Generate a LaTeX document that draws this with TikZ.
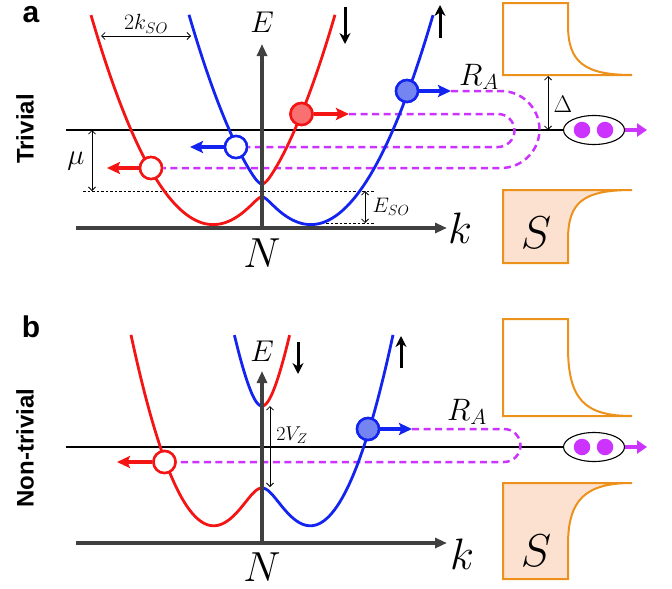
\RequirePackage{fix-cm}
\documentclass[tikz,border=0pt]{standalone}
\usepackage{fontspec}
\newfontfamily\hel{Liberation Sans}
\usetikzlibrary{arrows.meta,shapes.geometric}
\definecolor{redc}{RGB}{245,20,20}
\definecolor{bluec}{RGB}{20,36,240}
\definecolor{redfill}{RGB}{248,112,112}
\definecolor{bluefill}{RGB}{116,132,240}
\definecolor{purp}{RGB}{204,51,255}
\definecolor{orng}{RGB}{236,146,28}
\definecolor{peach}{RGB}{253,225,208}
\definecolor{axisgray}{RGB}{64,64,64}
\begin{document}
\begin{tikzpicture}[x=1pt,y=-1pt,
  band/.style={line width=2.8pt},
  axisline/.style={line width=3.5pt,draw=axisgray,-{Triangle[length=12pt,width=10pt]}},
  thinarr/.style={line width=0.8pt,{Straight Barb[length=3.5pt,width=7pt]}-{Straight Barb[length=3.5pt,width=7pt]}},
  fermi/.style={line width=1.1pt},
  pdash/.style={draw=purp,line width=2.5pt,dash pattern=on 7pt off 4.5pt},
  dotl/.style={line width=0.9pt,dash pattern=on 2.5pt off 2pt},
  spinarr/.style={line width=3pt,-{Stealth[length=11pt,width=11pt]}},
  kick/.style={line width=3.5pt,-{Stealth[length=13pt,width=12pt,inset=2.5pt]}},
  dotc/.style={circle,line width=2.5pt,minimum size=22pt,inner sep=0pt},
  lbl/.style={inner sep=0pt},
  sbox/.style={draw=orng,line width=2pt},
  pair/.style={ellipse,draw,line width=1.1pt,fill=white,minimum width=61pt,minimum height=29pt,inner sep=0pt},
  pdot/.style={circle,fill=purp,minimum size=16.5pt,inner sep=0pt},
  parr/.style={draw=purp,line width=4.5pt,-{Triangle[length=10pt,width=13pt]}},
  panel/.style={lbl,font=\hel\bfseries\fontsize{30}{30}\selectfont},
  side/.style={lbl,rotate=90,font=\hel\bfseries\fontsize{24}{24}\selectfont}
]
\useasboundingbox (0,0) rectangle (672,589);

% ================= panel a =================
\node[panel] (la) at (31,15) {a};
\node[side] (triv) at (25,129) {Trivial};

% superconductor boxes
\draw[sbox] (568,25) .. controls (568,62) and (584,75) .. (632,75) -- (503,75) -- (503,3) -- (568,3) -- cycle;
\draw[sbox,fill=peach] (632,190) .. controls (582,190) and (568,203) .. (568,240) -- (568,263) -- (503,263) -- (503,190) -- cycle;
\node[lbl,font=\fontsize{46}{46}\selectfont] (Sa) at (536,233) {$S$};

% Cooper pair
\node[pair] (ella) at (594,130) {};
\node[pdot] (d1a) at (582,130) {};
\node[pdot] (d2a) at (605,130) {};
\coordinate (pa) at (647,130);
\draw[parr] (ella.east) -- (pa);

% Fermi line
\coordinate (fla) at (66,130);
\draw[fermi] (fla) -- (ella.west);

% Delta
\coordinate (dta) at (548,76);
\coordinate (dba) at (548,130);
\draw[thinarr] (dta) -- (dba);
\node[lbl,font=\fontsize{24}{24}\selectfont] (Dl) at (563,104) {$\Delta$};

% dotted reference lines
\coordinate (m1) at (83,191); \coordinate (m2) at (374,191);
\coordinate (m3) at (308,223); \coordinate (m4) at (374,223);
\draw[dotl] (m1) -- (m2);
\draw[dotl] (m3) -- (m4);

% mu
\coordinate (mut) at (92,130); \coordinate (mub) at (92,191);
\draw[thinarr] (mut) -- (mub);
\node[lbl,font=\fontsize{29}{29}\selectfont] (mu) at (76,161) {$\mu$};

% E_SO
\coordinate (est) at (365,191); \coordinate (esb) at (365,223);
\draw[thinarr] (est) -- (esb);
\node[lbl,font=\fontsize{21}{21}\selectfont] (eso) at (391,207) {$E_{SO}$};

% 2k_SO
\coordinate (kl) at (101,36); \coordinate (kr) at (191,36);
\draw[thinarr] (kl) -- (kr);
\node[lbl,font=\fontsize{22}{22}\selectfont] (kso) at (146,24) {$2k_{SO}$};

% circles positions
\node[dotc,draw=redc,fill=redfill] (cRa) at (301.5,114) {};
\node[dotc,draw=bluec,fill=bluefill] (cBa) at (407,91) {};
\node[dotc,draw=bluec,fill=white] (oBa) at (236,147) {};
\node[dotc,draw=redc,fill=white] (oRa) at (151,168) {};
\coordinate (tRa) at (349,114);
\coordinate (tBa) at (451,91);
\coordinate (tBo) at (190,147);
\coordinate (tRo) at (107,168);

% dashed Andreev loops
\draw[pdash] (tBa) -- (501,91) arc[start angle=-90,end angle=90,radius=38.5] -- (oRa.east);
\draw[pdash] (tRa) -- (498,114) arc[start angle=-90,end angle=90,radius=16.5] -- (oBa.east);
\node[lbl,font=\fontsize{31}{31}\selectfont] (RAa) at (479,77) {$R_A$};

% bands (u = k/10)
\draw[band,redc] plot[domain=-17.1:0,samples=120,variable=\u] ({262+10*\u},{190.5-1.406*\u*\u+10*sqrt(0.4225+1.899*\u*\u)});
\draw[band,bluec] plot[domain=0:17.1,samples=120,variable=\u] ({262+10*\u},{190.5-1.406*\u*\u+10*sqrt(0.4225+1.899*\u*\u)});
\draw[band,bluec] plot[domain=-7.3:0,samples=80,variable=\u] ({262+10*\u},{190.5-1.406*\u*\u-10*sqrt(0.4225+1.899*\u*\u)});
\draw[band,redc] plot[domain=0:7.3,samples=80,variable=\u] ({262+10*\u},{190.5-1.406*\u*\u-10*sqrt(0.4225+1.899*\u*\u)});

% axes
\coordinate (oa) at (262,228); \coordinate (ea) at (262,44);
\coordinate (k0a) at (76,228); \coordinate (k1a) at (447,228);
\draw[axisline] (oa) -- (ea);
\draw[axisline] (k0a) -- (k1a);
\node[lbl,font=\fontsize{30}{30}\selectfont] (Ea) at (262,22) {$E$};
\node[lbl,font=\fontsize{42}{42}\selectfont] (Na) at (262,253) {$N$};
\node[lbl,font=\fontsize{44}{44}\selectfont] (ka) at (460,228) {$k$};

% circles on top
\node[dotc,draw=redc,fill=redfill] at (cRa) {};
\node[dotc,draw=bluec,fill=bluefill] at (cBa) {};
\node[dotc,draw=bluec,fill=white] at (oBa) {};
\node[dotc,draw=redc,fill=white] at (oRa) {};
\draw[kick,redc] (cRa.east) -- (tRa);
\draw[kick,bluec] (cBa.east) -- (tBa);
\draw[kick,bluec] (oBa.west) -- (tBo);
\draw[kick,redc] (oRa.west) -- (tRo);

% spin arrows
\coordinate (sd1) at (345,7); \coordinate (sd2) at (345,44);
\coordinate (su1) at (440,38); \coordinate (su2) at (440,5);
\draw[spinarr] (sd1) -- (sd2);
\draw[spinarr] (su1) -- (su2);

% ================= panel b =================
\node[panel] (lb) at (31,327) {b};
\node[side] (ntriv) at (25,448) {Non-trivial};

\draw[sbox] (568,347) .. controls (568,400) and (585,416) .. (632,416) -- (503,416) -- (503,319) -- (568,319) -- cycle;
\draw[sbox,fill=peach] (632,483) .. controls (585,483) and (568,500) .. (568,545) -- (568,579) -- (503,579) -- (503,483) -- cycle;
\node[lbl,font=\fontsize{46}{46}\selectfont] (Sb) at (536,551) {$S$};

\node[pair] (ellb) at (594,447) {};
\node[pdot] (d1b) at (582,447) {};
\node[pdot] (d2b) at (605,447) {};
\coordinate (pb) at (647,447);
\draw[parr] (ellb.east) -- (pb);

\coordinate (flb) at (66,447);
\draw[fermi] (flb) -- (ellb.west);

% 2V_Z
\coordinate (vzt) at (270,406); \coordinate (vzb) at (270,487);
\draw[thinarr] (vzt) -- (vzb);
\node[lbl,font=\fontsize{20}{20}\selectfont] (vz) at (292,435) {$2V_Z$};

\node[dotc,draw=redc,fill=white] (oRb) at (164.5,462) {};
\node[dotc,draw=bluec,fill=bluefill] (cBb) at (368,429) {};
\coordinate (tRb) at (117,462);
\coordinate (tBb) at (412,429);

\draw[pdash] (tBb) -- (504,429) arc[start angle=-90,end angle=90,radius=16.5] -- (oRb.east);
\node[lbl,font=\fontsize{31}{31}\selectfont] (RAb) at (467,412) {$R_A$};

\draw[band,redc] plot[domain=-13.1:0,samples=120,variable=\u] ({262+10*\u},{447-2.88*\u*\u+10*sqrt(16.81+8.41*\u*\u)});
\draw[band,bluec] plot[domain=0:13.1,samples=120,variable=\u] ({262+10*\u},{447-2.88*\u*\u+10*sqrt(16.81+8.41*\u*\u)});
\draw[band,bluec] plot[domain=-2.76:0,samples=60,variable=\u] ({262+10*\u},{447-2.88*\u*\u-10*sqrt(16.81+8.41*\u*\u)});
\draw[band,redc] plot[domain=0:2.76,samples=60,variable=\u] ({262+10*\u},{447-2.88*\u*\u-10*sqrt(16.81+8.41*\u*\u)});

\coordinate (ob) at (262,543); \coordinate (eb) at (262,371);
\coordinate (k0b) at (76,543); \coordinate (k1b) at (447,543);
\draw[axisline] (ob) -- (eb);
\draw[axisline] (k0b) -- (k1b);
\node[lbl,font=\fontsize{30}{30}\selectfont] (Eb) at (262,351) {$E$};
\node[lbl,font=\fontsize{42}{42}\selectfont] (Nb) at (262,567) {$N$};
\node[lbl,font=\fontsize{44}{44}\selectfont] (kb) at (462,554) {$k$};

\node[dotc,draw=redc,fill=white] at (oRb) {};
\node[dotc,draw=bluec,fill=bluefill] at (cBb) {};
\draw[kick,redc] (oRb.west) -- (tRb);
\draw[kick,bluec] (cBb.east) -- (tBb);

\coordinate (sd3) at (298,342); \coordinate (sd4) at (298,374);
\coordinate (su3) at (401,368); \coordinate (su4) at (401,336);
\draw[spinarr] (sd3) -- (sd4);
\draw[spinarr] (su3) -- (su4);
\end{tikzpicture}
\end{document}
